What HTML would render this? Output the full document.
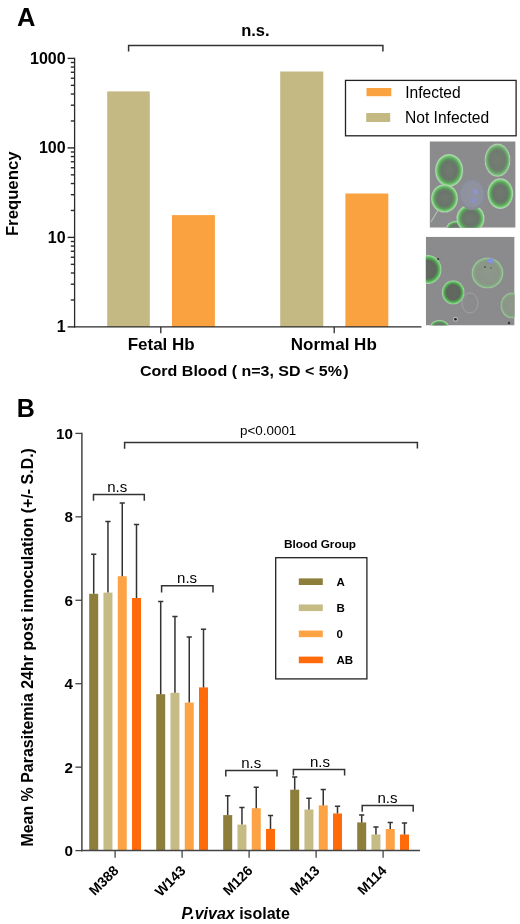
<!DOCTYPE html>
<html><head><meta charset="utf-8"><style>
html,body{margin:0;padding:0;background:#fff;}
svg{display:block;will-change:transform;}
text{font-family:"Liberation Sans",sans-serif;fill:#000;}
</style></head><body>
<svg width="520" height="924" viewBox="0 0 520 924">
<rect width="520" height="924" fill="#fff"/>
<text x="16.9" y="26.3" font-size="25.5" font-weight="bold">A</text>
<line x1="74.6" y1="57.80" x2="74.6" y2="327.50" stroke="#2a2a2a" stroke-width="1.3"/>
<line x1="67.6" y1="326.90" x2="74.6" y2="326.90" stroke="#2a2a2a" stroke-width="1.4"/>
<line x1="70.8" y1="299.96" x2="74.6" y2="299.96" stroke="#2a2a2a" stroke-width="1.4"/>
<line x1="70.8" y1="284.20" x2="74.6" y2="284.20" stroke="#2a2a2a" stroke-width="1.4"/>
<line x1="70.8" y1="273.02" x2="74.6" y2="273.02" stroke="#2a2a2a" stroke-width="1.4"/>
<line x1="70.8" y1="264.34" x2="74.6" y2="264.34" stroke="#2a2a2a" stroke-width="1.4"/>
<line x1="70.8" y1="257.26" x2="74.6" y2="257.26" stroke="#2a2a2a" stroke-width="1.4"/>
<line x1="70.8" y1="251.26" x2="74.6" y2="251.26" stroke="#2a2a2a" stroke-width="1.4"/>
<line x1="70.8" y1="246.07" x2="74.6" y2="246.07" stroke="#2a2a2a" stroke-width="1.4"/>
<line x1="70.8" y1="241.50" x2="74.6" y2="241.50" stroke="#2a2a2a" stroke-width="1.4"/>
<line x1="67.6" y1="237.40" x2="74.6" y2="237.40" stroke="#2a2a2a" stroke-width="1.4"/>
<line x1="70.8" y1="210.46" x2="74.6" y2="210.46" stroke="#2a2a2a" stroke-width="1.4"/>
<line x1="70.8" y1="194.70" x2="74.6" y2="194.70" stroke="#2a2a2a" stroke-width="1.4"/>
<line x1="70.8" y1="183.52" x2="74.6" y2="183.52" stroke="#2a2a2a" stroke-width="1.4"/>
<line x1="70.8" y1="174.84" x2="74.6" y2="174.84" stroke="#2a2a2a" stroke-width="1.4"/>
<line x1="70.8" y1="167.76" x2="74.6" y2="167.76" stroke="#2a2a2a" stroke-width="1.4"/>
<line x1="70.8" y1="161.76" x2="74.6" y2="161.76" stroke="#2a2a2a" stroke-width="1.4"/>
<line x1="70.8" y1="156.57" x2="74.6" y2="156.57" stroke="#2a2a2a" stroke-width="1.4"/>
<line x1="70.8" y1="152.00" x2="74.6" y2="152.00" stroke="#2a2a2a" stroke-width="1.4"/>
<line x1="67.6" y1="147.90" x2="74.6" y2="147.90" stroke="#2a2a2a" stroke-width="1.4"/>
<line x1="70.8" y1="120.96" x2="74.6" y2="120.96" stroke="#2a2a2a" stroke-width="1.4"/>
<line x1="70.8" y1="105.20" x2="74.6" y2="105.20" stroke="#2a2a2a" stroke-width="1.4"/>
<line x1="70.8" y1="94.02" x2="74.6" y2="94.02" stroke="#2a2a2a" stroke-width="1.4"/>
<line x1="70.8" y1="85.34" x2="74.6" y2="85.34" stroke="#2a2a2a" stroke-width="1.4"/>
<line x1="70.8" y1="78.26" x2="74.6" y2="78.26" stroke="#2a2a2a" stroke-width="1.4"/>
<line x1="70.8" y1="72.26" x2="74.6" y2="72.26" stroke="#2a2a2a" stroke-width="1.4"/>
<line x1="70.8" y1="67.07" x2="74.6" y2="67.07" stroke="#2a2a2a" stroke-width="1.4"/>
<line x1="70.8" y1="62.50" x2="74.6" y2="62.50" stroke="#2a2a2a" stroke-width="1.4"/>
<line x1="67.6" y1="58.40" x2="74.6" y2="58.40" stroke="#2a2a2a" stroke-width="1.4"/>
<text x="65.6" y="332.40" font-size="16" font-weight="bold" text-anchor="end">1</text>
<text x="65.6" y="242.90" font-size="16" font-weight="bold" text-anchor="end">10</text>
<text x="65.6" y="153.40" font-size="16" font-weight="bold" text-anchor="end">100</text>
<text x="65.6" y="63.90" font-size="16" font-weight="bold" text-anchor="end">1000</text>
<rect x="107.2" y="91.4" width="42.6" height="235.50" fill="#c4b883"/>
<rect x="172" y="215.1" width="42.9" height="111.80" fill="#fba240"/>
<rect x="280.2" y="71.5" width="43.1" height="255.40" fill="#c4b883"/>
<rect x="345.4" y="193.5" width="42.9" height="133.40" fill="#fba240"/>
<line x1="74" y1="326.90" x2="421.5" y2="326.90" stroke="#2a2a2a" stroke-width="1.4"/>
<line x1="160.8" y1="326.9" x2="160.8" y2="333.3" stroke="#2a2a2a" stroke-width="1.3"/>
<line x1="334.2" y1="326.9" x2="334.2" y2="333.3" stroke="#2a2a2a" stroke-width="1.3"/>
<text x="161.2" y="350" font-size="17" font-weight="bold" text-anchor="middle">Fetal Hb</text>
<text x="333.8" y="349.9" font-size="17" font-weight="bold" text-anchor="middle">Normal Hb</text>
<text x="140" y="375.8" font-size="15.5" font-weight="bold" textLength="208.7" lengthAdjust="spacingAndGlyphs">Cord Blood ( n=3, SD &lt; 5%&#8202;)</text>
<text transform="translate(18.0,236.1) rotate(-90)" font-size="16" font-weight="bold" textLength="84.6" lengthAdjust="spacingAndGlyphs">Frequency</text>
<path d="M128.6 51.5V45.5H382.9V51.5" fill="none" stroke="#333" stroke-width="1.5"/>
<text x="241.2" y="36.4" font-size="16.5" font-weight="bold">n.s.</text>
<rect x="345.5" y="80.4" width="170.6" height="55.4" fill="none" stroke="#222" stroke-width="1.3"/>
<rect x="366.5" y="88" width="24.8" height="8.2" fill="#fba240"/>
<rect x="366.2" y="113" width="24" height="9" fill="#c4b883"/>
<text x="405.2" y="97.8" font-size="15.6">Infected</text>
<text x="405" y="123.2" font-size="15.6">Not Infected</text>
<defs>
<filter id="bl" x="-20%" y="-20%" width="140%" height="140%"><feGaussianBlur stdDeviation="0.7"/></filter>
<radialGradient id="g1"><stop offset="0" stop-color="#717a70"/><stop offset="0.55" stop-color="#6a756b"/><stop offset="0.72" stop-color="#5c985c"/><stop offset="0.86" stop-color="#6fc66f"/><stop offset="0.95" stop-color="#a8daa8"/><stop offset="1" stop-color="#b4c8b4"/></radialGradient>
<radialGradient id="g2"><stop offset="0" stop-color="#757e74"/><stop offset="0.6" stop-color="#707a6f"/><stop offset="0.76" stop-color="#679a67"/><stop offset="0.9" stop-color="#80c280"/><stop offset="0.97" stop-color="#b8d4b8"/><stop offset="1" stop-color="#a8b4a8"/></radialGradient>
<radialGradient id="g3"><stop offset="0" stop-color="#646961"/><stop offset="0.6" stop-color="#60665e"/><stop offset="0.74" stop-color="#4f984f"/><stop offset="0.87" stop-color="#66c666"/><stop offset="0.96" stop-color="#a4d4a4"/><stop offset="1" stop-color="#a0b0a0"/></radialGradient>
<radialGradient id="g4"><stop offset="0" stop-color="#8e978c"/><stop offset="0.75" stop-color="#8a9687"/><stop offset="0.88" stop-color="#84b084"/><stop offset="0.96" stop-color="#9cc89c"/><stop offset="1" stop-color="#98a898"/></radialGradient>
<radialGradient id="g5"><stop offset="0" stop-color="#9194a0"/><stop offset="0.8" stop-color="#8e919e"/><stop offset="0.92" stop-color="#868996"/><stop offset="1" stop-color="#8c8d92"/></radialGradient>
<clipPath id="c1"><rect x="429.6" y="141.3" width="86" height="86.4"/></clipPath>
<clipPath id="c2"><rect x="425.8" y="236.7" width="88.8" height="88.8"/></clipPath>
</defs>
<g clip-path="url(#c1)"><rect x="429.6" y="141.3" width="86" height="86.4" fill="#8b8b8e"/><g filter="url(#bl)">
<path d="M438 210 L431 222" stroke="#b8dab8" stroke-width="1.2" opacity="0.7"/>
<ellipse cx="456" cy="229" rx="10" ry="8" fill="url(#g1)"/>
<ellipse cx="470.5" cy="218.5" rx="14" ry="14" fill="url(#g1)"/>
<ellipse cx="449.1" cy="170.4" rx="14" ry="16.4" fill="url(#g1)"/>
<ellipse cx="497.5" cy="160.2" rx="12.9" ry="16.6" fill="url(#g2)"/>
<ellipse cx="444.5" cy="198.4" rx="13.4" ry="14.2" fill="url(#g1)"/>
<ellipse cx="472.2" cy="194" rx="13.6" ry="16" fill="url(#g5)"/>
<ellipse cx="475.5" cy="191.8" rx="2.2" ry="2.6" fill="#8e94d8"/><ellipse cx="474.2" cy="200.5" rx="2" ry="3.2" fill="#8a90cc"/>
<ellipse cx="500.3" cy="193.6" rx="12.8" ry="15.3" fill="url(#g1)"/>
</g></g>
<g clip-path="url(#c2)"><rect x="425.8" y="236.7" width="88.8" height="88.8" fill="#8b8b8e"/><g filter="url(#bl)">
<ellipse cx="428" cy="269.5" rx="13.6" ry="14.6" fill="url(#g3)"/>
<ellipse cx="453.2" cy="292.4" rx="11.4" ry="12.2" fill="url(#g3)"/>
<ellipse cx="487.5" cy="273" rx="16" ry="15.6" fill="url(#g4)"/>
<ellipse cx="490.9" cy="260.8" rx="3" ry="2.6" fill="#8590e0"/><circle cx="485" cy="267" r="1" fill="#555"/><circle cx="491" cy="268" r="1" fill="#6a7a60"/>
<ellipse cx="512" cy="305.5" rx="11.5" ry="13" fill="url(#g4)"/>
<ellipse cx="439.5" cy="327" rx="9.5" ry="7" fill="url(#g1)"/>
<ellipse cx="470" cy="303" rx="8" ry="10" fill="none" stroke="#a0a0a2" stroke-width="1"/>
<circle cx="455.5" cy="319.3" r="2.5" fill="#b0b0b0"/><circle cx="455.5" cy="319.3" r="1.3" fill="#222"/><circle cx="438.2" cy="259" r="1.1" fill="#333"/><circle cx="509" cy="323" r="1.2" fill="#333"/>
</g></g>
<text x="16.8" y="416.8" font-size="25" font-weight="bold">B</text>
<line x1="81.9" y1="432.80" x2="81.9" y2="851.30" stroke="#444" stroke-width="1.5"/>
<line x1="75.4" y1="850.60" x2="81.9" y2="850.60" stroke="#444" stroke-width="1.3"/>
<text x="73.0" y="856.00" font-size="15.2" font-weight="bold" text-anchor="end">0</text>
<line x1="75.4" y1="767.16" x2="81.9" y2="767.16" stroke="#444" stroke-width="1.3"/>
<text x="73.0" y="772.56" font-size="15.2" font-weight="bold" text-anchor="end">2</text>
<line x1="75.4" y1="683.72" x2="81.9" y2="683.72" stroke="#444" stroke-width="1.3"/>
<text x="73.0" y="689.12" font-size="15.2" font-weight="bold" text-anchor="end">4</text>
<line x1="75.4" y1="600.28" x2="81.9" y2="600.28" stroke="#444" stroke-width="1.3"/>
<text x="73.0" y="605.68" font-size="15.2" font-weight="bold" text-anchor="end">6</text>
<line x1="75.4" y1="516.84" x2="81.9" y2="516.84" stroke="#444" stroke-width="1.3"/>
<text x="73.0" y="522.24" font-size="15.2" font-weight="bold" text-anchor="end">8</text>
<line x1="75.4" y1="433.40" x2="81.9" y2="433.40" stroke="#444" stroke-width="1.3"/>
<text x="73.0" y="438.80" font-size="15.2" font-weight="bold" text-anchor="end">10</text>
<rect x="89.20" y="593.8" width="9" height="256.80" fill="#8e7e3c"/>
<rect x="103.45" y="592.6" width="9" height="258.00" fill="#c7bb85"/>
<rect x="117.75" y="576.2" width="9" height="274.40" fill="#fda345"/>
<rect x="132.00" y="598" width="9" height="252.60" fill="#ff6a0a"/>
<path d="M93.70 593.8V554.2M91.10 554.2H96.30" stroke="#333" stroke-width="1.5" fill="none"/>
<path d="M107.95 592.6V521.5M105.35 521.5H110.55" stroke="#333" stroke-width="1.5" fill="none"/>
<path d="M122.25 576.2V503.1M119.65 503.1H124.85" stroke="#333" stroke-width="1.5" fill="none"/>
<path d="M136.50 598V524.6M133.90 524.6H139.10" stroke="#333" stroke-width="1.5" fill="none"/>
<line x1="115.1" y1="850.6" x2="115.1" y2="857.7" stroke="#444" stroke-width="1.3"/>
<text transform="translate(119.50,871.5) rotate(-45)" font-size="14" font-weight="bold" text-anchor="end">M388</text>
<rect x="156.20" y="694.2" width="9" height="156.40" fill="#8e7e3c"/>
<rect x="170.45" y="692.8" width="9" height="157.80" fill="#c7bb85"/>
<rect x="184.75" y="702.6" width="9" height="148.00" fill="#fda345"/>
<rect x="199.00" y="687.4" width="9" height="163.20" fill="#ff6a0a"/>
<path d="M160.70 694.2V601.5M158.10 601.5H163.30" stroke="#333" stroke-width="1.5" fill="none"/>
<path d="M174.95 692.8V616.5M172.35 616.5H177.55" stroke="#333" stroke-width="1.5" fill="none"/>
<path d="M189.25 702.6V636.9M186.65 636.9H191.85" stroke="#333" stroke-width="1.5" fill="none"/>
<path d="M203.50 687.4V629.2M200.90 629.2H206.10" stroke="#333" stroke-width="1.5" fill="none"/>
<line x1="182.1" y1="850.6" x2="182.1" y2="857.7" stroke="#444" stroke-width="1.3"/>
<text transform="translate(186.50,871.5) rotate(-45)" font-size="14" font-weight="bold" text-anchor="end">W143</text>
<rect x="223.20" y="815.1" width="9" height="35.50" fill="#8e7e3c"/>
<rect x="237.45" y="824.6" width="9" height="26.00" fill="#c7bb85"/>
<rect x="251.75" y="808.2" width="9" height="42.40" fill="#fda345"/>
<rect x="266.00" y="828.9" width="9" height="21.70" fill="#ff6a0a"/>
<path d="M227.70 815.1V795.8M225.10 795.8H230.30" stroke="#333" stroke-width="1.5" fill="none"/>
<path d="M241.95 824.6V807.4M239.35 807.4H244.55" stroke="#333" stroke-width="1.5" fill="none"/>
<path d="M256.25 808.2V787.2M253.65 787.2H258.85" stroke="#333" stroke-width="1.5" fill="none"/>
<path d="M270.50 828.9V815.5M267.90 815.5H273.10" stroke="#333" stroke-width="1.5" fill="none"/>
<line x1="249.1" y1="850.6" x2="249.1" y2="857.7" stroke="#444" stroke-width="1.3"/>
<text transform="translate(253.50,871.5) rotate(-45)" font-size="14" font-weight="bold" text-anchor="end">M126</text>
<rect x="290.20" y="789.7" width="9" height="60.90" fill="#8e7e3c"/>
<rect x="304.45" y="809.5" width="9" height="41.10" fill="#c7bb85"/>
<rect x="318.75" y="805.4" width="9" height="45.20" fill="#fda345"/>
<rect x="333.00" y="813.5" width="9" height="37.10" fill="#ff6a0a"/>
<path d="M294.70 789.7V776.9M292.10 776.9H297.30" stroke="#333" stroke-width="1.5" fill="none"/>
<path d="M308.95 809.5V798.2M306.35 798.2H311.55" stroke="#333" stroke-width="1.5" fill="none"/>
<path d="M323.25 805.4V789.5M320.65 789.5H325.85" stroke="#333" stroke-width="1.5" fill="none"/>
<path d="M337.50 813.5V806.2M334.90 806.2H340.10" stroke="#333" stroke-width="1.5" fill="none"/>
<line x1="316.1" y1="850.6" x2="316.1" y2="857.7" stroke="#444" stroke-width="1.3"/>
<text transform="translate(320.50,871.5) rotate(-45)" font-size="14" font-weight="bold" text-anchor="end">M413</text>
<rect x="357.20" y="822.4" width="9" height="28.20" fill="#8e7e3c"/>
<rect x="371.45" y="834.5" width="9" height="16.10" fill="#c7bb85"/>
<rect x="385.75" y="829" width="9" height="21.60" fill="#fda345"/>
<rect x="400.00" y="834.5" width="9" height="16.10" fill="#ff6a0a"/>
<path d="M361.70 822.4V815.1M359.10 815.1H364.30" stroke="#333" stroke-width="1.5" fill="none"/>
<path d="M375.95 834.5V827.1M373.35 827.1H378.55" stroke="#333" stroke-width="1.5" fill="none"/>
<path d="M390.25 829V822.4M387.65 822.4H392.85" stroke="#333" stroke-width="1.5" fill="none"/>
<path d="M404.50 834.5V822.9M401.90 822.9H407.10" stroke="#333" stroke-width="1.5" fill="none"/>
<line x1="383.1" y1="850.6" x2="383.1" y2="857.7" stroke="#444" stroke-width="1.3"/>
<text transform="translate(387.50,871.5) rotate(-45)" font-size="14" font-weight="bold" text-anchor="end">M114</text>
<line x1="81.2" y1="850.6" x2="420" y2="850.6" stroke="#444" stroke-width="1.5"/>
<path d="M93.5 500.8V494.6H144.3V500.8" fill="none" stroke="#333" stroke-width="1.5"/>
<text x="117.3" y="492" font-size="15" text-anchor="middle">n.s</text>
<path d="M161.6 592.6V585.8H213V592.6" fill="none" stroke="#333" stroke-width="1.5"/>
<text x="187.1" y="583.1" font-size="15" text-anchor="middle">n.s</text>
<path d="M225.8 776.5V770.5H277V776.5" fill="none" stroke="#333" stroke-width="1.5"/>
<text x="251.3" y="768" font-size="15" text-anchor="middle">n.s</text>
<path d="M293.4 775.6V769.6H344.6V775.6" fill="none" stroke="#333" stroke-width="1.5"/>
<text x="320" y="767.4" font-size="15" text-anchor="middle">n.s</text>
<path d="M362.2 811.7V805.6H413.2V811.7" fill="none" stroke="#333" stroke-width="1.5"/>
<text x="387.4" y="803" font-size="15" text-anchor="middle">n.s</text>
<path d="M124.6 448.8V442.5H417.4V448.6" fill="none" stroke="#333" stroke-width="1.5"/>
<text x="240" y="434.8" font-size="13.5" textLength="56.3" lengthAdjust="spacingAndGlyphs">p&lt;0.0001</text>
<text x="284" y="548" font-size="11.8" font-weight="bold">Blood Group</text>
<rect x="275.7" y="557.7" width="91.2" height="121.2" fill="none" stroke="#222" stroke-width="1.3"/>
<rect x="298.8" y="578.40" width="24" height="6.6" fill="#8e7e3c"/>
<text x="336.4" y="585.80" font-size="11.5" font-weight="bold">A</text>
<rect x="298.8" y="604.47" width="24" height="6.6" fill="#c7bb85"/>
<text x="336.4" y="611.87" font-size="11.5" font-weight="bold">B</text>
<rect x="298.8" y="630.54" width="24" height="6.6" fill="#fda345"/>
<text x="336.4" y="637.94" font-size="11.5" font-weight="bold">0</text>
<rect x="298.8" y="656.61" width="24" height="6.6" fill="#ff6a0a"/>
<text x="336.4" y="664.01" font-size="11.5" font-weight="bold">AB</text>
<text x="181.6" y="918.8" font-size="16" font-weight="bold"><tspan font-style="italic">P.vivax</tspan> isolate</text>
<text transform="translate(33.1,846.6) rotate(-90)" font-size="16" font-weight="bold" textLength="398.5" lengthAdjust="spacingAndGlyphs">Mean % Parasitemia 24hr post innoculation (+/- S.D.)</text>
</svg>
</body></html>
